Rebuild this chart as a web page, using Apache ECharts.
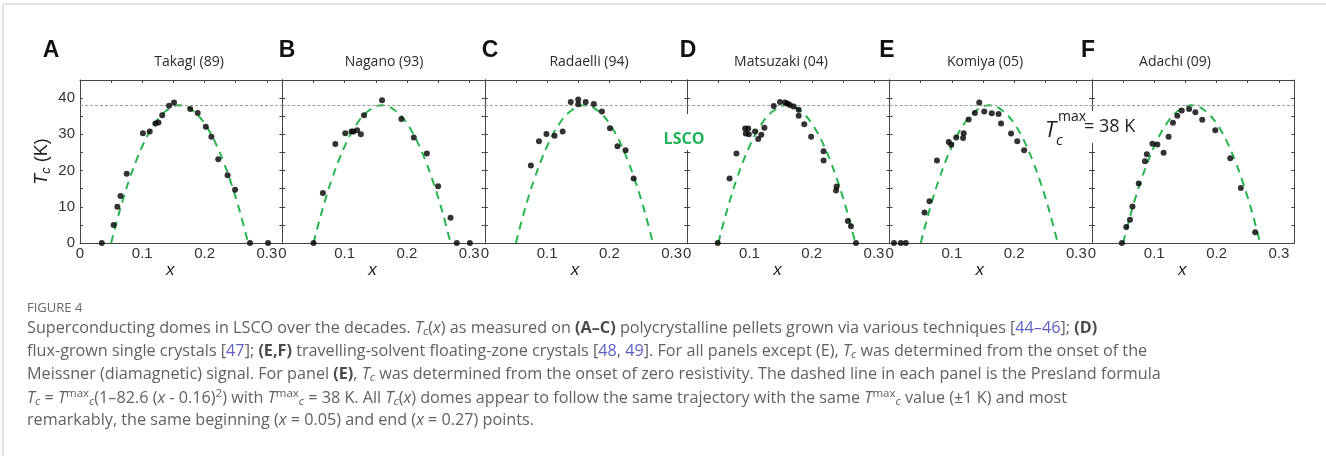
<!DOCTYPE html>
<html><head><meta charset="utf-8">
<script src="https://cdn.jsdelivr.net/npm/echarts@6/dist/echarts.min.js"></script>
<style>html,body{margin:0;padding:0;background:#fff}#c{width:1326px;height:456px}</style>
</head><body><div id="c"></div>
<script>
// ---------- data ----------
const panelLetters = ['A', 'B', 'C', 'D', 'E', 'F'];
const panelTitles = ['Takagi (89)', 'Nagano (93)', 'Radaelli (94)', 'Matsuzaki (04)', 'Komiya (05)', 'Adachi (09)'];
const xTickValues = [0, 0.1, 0.2, 0.3];
const xTickLabels = ['0', '0.1', '0.2', '0.3'];
const yTickValues = [0, 10, 20, 30, 40];
const yTickLabels = ['0', '10', '20', '30', '40'];
const tcMax = 38;

const takagiX = [0.035,0.054,0.060,0.065,0.075,0.101,0.112,0.121,0.126,0.132,0.143,0.151,0.177,0.189,0.202,0.211,0.222,0.237,0.249,0.273,0.302];
const takagiY = [0,5.0,10.0,13.0,19.1,30.3,30.8,33.0,33.3,35.3,37.9,38.8,37.0,35.9,32.1,29.3,23.1,18.7,14.7,0,0];
const naganoX = [0.050,0.065,0.085,0.101,0.111,0.114,0.120,0.126,0.131,0.160,0.191,0.211,0.232,0.250,0.270,0.280,0.301];
const naganoY = [0,13.8,27.3,30.3,30.8,30.8,31.1,30.0,35.3,39.4,34.2,29.1,24.7,15.7,7.0,0,0];
const radaelliX = [0.074,0.087,0.099,0.112,0.125,0.138,0.150,0.150,0.162,0.175,0.188,0.201,0.213,0.226,0.239];
const radaelliY = [21.4,28.1,30.1,29.6,30.8,38.9,39.6,38.3,38.9,38.4,36.3,31.7,26.7,25.6,17.8];
const matsuzakiX = [0.049,0.068,0.079,0.093,0.098,0.094,0.099,0.109,0.114,0.119,0.124,0.139,0.149,0.157,0.161,0.165,0.171,0.179,0.179,0.188,0.199,0.219,0.219,0.240,0.239,0.258,0.263,0.271];
const matsuzakiY = [0,17.8,24.7,31.6,31.6,30.2,30.0,30.8,28.7,29.9,31.8,37.8,38.9,38.8,38.5,38.1,37.7,36.8,35.1,32.8,29.3,25.3,22.8,15.6,14.5,6.1,4.6,0];
const komiyaX = [0.007,0.018,0.026,0.056,0.064,0.076,0.095,0.099,0.107,0.118,0.119,0.127,0.137,0.144,0.152,0.164,0.175,0.179,0.195,0.205,0.216];
const komiyaY = [0,0,0,8.4,11.5,22.8,27.9,27.1,29.1,29.0,30.3,34.1,35.9,38.8,36.3,35.8,35.6,33.0,30.2,28.1,25.6];
const adachiX = [0.048,0.055,0.061,0.065,0.075,0.085,0.088,0.097,0.105,0.115,0.123,0.130,0.137,0.144,0.156,0.166,0.177,0.198,0.222,0.239,0.262];
const adachiY = [0,4.4,6.4,10.1,16.4,22.6,24.5,27.4,27.2,24.9,29.3,33.2,35.1,36.6,37.0,36.1,34.0,31.1,23.4,15.2,3.0];

// Presland dome (dashed)
const preslandX = [0.05,0.06,0.07,0.08,0.09,0.10,0.11,0.12,0.13,0.14,0.15,0.16,0.17,0.18,0.19,0.20,0.21,0.22,0.23,0.24,0.25,0.26,0.27];
const preslandT = [0,6.6,12.6,17.9,22.6,26.7,30.2,33.0,35.2,36.7,37.7,38.0,37.7,36.7,35.2,33.0,30.2,26.7,22.6,17.9,12.6,6.6,0];

const panelX = [takagiX, naganoX, radaelliX, matsuzakiX, komiyaX, adachiX];
const panelY = [takagiY, naganoY, radaelliY, matsuzakiY, komiyaY, adachiY];

// ---------- layout ----------
const G_LEFT = 80, G_W = 202.4, G_TOP = 80, G_H = 163;
const AX = '#444';
const titleCenters = [189, 384, 589, 781, 985, 1175];
const letterCenters = [51, 287, 490, 688, 887, 1088];

const grids = [], xAxes = [], yAxes = [], series = [];
const zip = (a, b) => a.map((v, k) => [v, b[k]]);

for (let i = 0; i < 6; i++) {
  grids.push({ left: G_LEFT + i * G_W, top: G_TOP, width: G_W, height: G_H, containLabel: false });
  xAxes.push({
    gridIndex: i, type: 'value', min: 0, max: 0.325, interval: 0.1, position: 'bottom',
    axisLine: { show: true, onZero: false, lineStyle: { color: AX, width: 1 } },
    axisTick: { show: false }, splitLine: { show: false },
    axisLabel: {
      margin: 3, fontSize: 15, color: '#333', fontFamily: 'Liberation Sans, Arial',
      formatter: v => { const k = xTickValues.findIndex(t => Math.abs(t - v) < 1e-6); return k >= 0 ? xTickLabels[k] : ''; }
    },
    name: 'x', nameLocation: 'middle', nameGap: 17,
    nameTextStyle: { fontStyle: 'italic', fontSize: 17, color: '#222', fontFamily: 'Liberation Sans, Arial', padding: [0, 22, 0, 0] }
  });
  xAxes.push({
    gridIndex: i, type: 'value', min: 0, max: 0.325, interval: 0.05, position: 'top',
    axisLine: { show: true, onZero: false, lineStyle: { color: AX, width: 1 } },
    axisTick: { show: true, inside: true, length: 3, lineStyle: { color: AX } },
    axisLabel: { show: false }, splitLine: { show: false }
  });
  const leftY = {
    gridIndex: i, type: 'value', min: 0, max: 45, interval: 5, position: 'left',
    axisLine: { show: true, onZero: false, lineStyle: { color: AX, width: 1 } },
    axisTick: { show: true, inside: true, length: 3, lineStyle: { color: AX } },
    splitLine: { show: false },
    axisLabel: {
      show: i === 0, margin: 5, fontSize: 15, color: '#333', fontFamily: 'Liberation Sans, Arial',
      formatter: v => { const k = yTickValues.findIndex(t => Math.abs(t - v) < 1e-6); return k >= 0 ? yTickLabels[k] : ''; }
    }
  };
  if (i === 0) {
    leftY.name = '{i|T}{s|c}{n| (K)}';
    leftY.nameLocation = 'middle';
    leftY.nameGap = 27;
    leftY.nameTextStyle = {
      color: '#222',
      rich: {
        i: { fontStyle: 'italic', fontSize: 18, fontFamily: 'Liberation Sans, Arial', color: '#222' },
        s: { fontStyle: 'italic', fontSize: 13, fontFamily: 'Liberation Sans, Arial', color: '#222', padding: [9, 0, 0, 0] },
        n: { fontSize: 18, fontFamily: 'Liberation Sans, Arial', color: '#222' }
      }
    };
  }
  yAxes.push(leftY);
  yAxes.push({
    gridIndex: i, type: 'value', min: 0, max: 45, interval: 5, position: 'right',
    axisLine: { show: true, onZero: false, lineStyle: { color: AX, width: 1 } },
    axisTick: { show: true, inside: true, length: 3, lineStyle: { color: AX } },
    axisLabel: { show: false }, splitLine: { show: false }
  });
  series.push({
    type: 'line', xAxisIndex: 2 * i, yAxisIndex: 2 * i,
    data: zip(preslandX, preslandT), smooth: true, showSymbol: false, symbol: 'none',
    lineStyle: { color: '#27b54e', width: 2, type: [8, 6] }, z: 2, silent: true,
    markLine: {
      silent: true, symbol: 'none', label: { show: false },
      lineStyle: { color: '#9a9a9a', type: [3, 2], width: 1 },
      data: [{ yAxis: tcMax }]
    }
  });
  series.push({
    type: 'scatter', xAxisIndex: 2 * i, yAxisIndex: 2 * i,
    data: zip(panelX[i], panelY[i]), symbol: 'circle', symbolSize: 6,
    itemStyle: { color: '#000' }, z: 5, clip: false, silent: true
  });
}

// ---------- text graphics ----------
const graphic = [];
graphic.push({ type: 'line', shape: { x1: 3, y1: 4, x2: 1326, y2: 4 }, style: { stroke: '#d9d9d9', lineWidth: 1.5 }, z: 1 });
graphic.push({ type: 'line', shape: { x1: 3, y1: 4, x2: 3, y2: 456 }, style: { stroke: '#d9d9d9', lineWidth: 1.5 }, z: 1 });
for (let i = 0; i < 6; i++) {
  graphic.push({ type: 'text', x: letterCenters[i], y: 51, z: 10,
    style: { text: panelLetters[i], fontFamily: 'Liberation Sans, Arial', fontWeight: 'bold', fontSize: 23, fill: '#111', align: 'center', verticalAlign: 'middle' } });
  graphic.push({ type: 'text', x: titleCenters[i], y: 62, z: 10,
    style: { text: panelTitles[i], fontFamily: 'Open Sans', fontSize: 14, fill: '#2a2a2a', align: 'center', verticalAlign: 'middle' } });
}
// LSCO label with white box
graphic.push({ type: 'rect', shape: { x: 661, y: 114, width: 46, height: 36 }, style: { fill: '#fff' }, z: 10 });
graphic.push({ type: 'text', x: 684, y: 139, z: 11,
  style: { text: 'LSCO', fontFamily: 'Open Sans', fontWeight: 'bold', fontSize: 16, fill: '#1fb35a', align: 'center', verticalAlign: 'middle' } });
// Tc max annotation
graphic.push({ type: 'rect', shape: { x: 1082, y: 111, width: 54, height: 32 }, style: { fill: '#fff' }, z: 10 });
graphic.push({ type: 'text', x: 1045, y: 131, z: 11, style: { text: 'T', fontFamily: 'Open Sans', fontStyle: 'italic', fontSize: 22, fill: '#222', verticalAlign: 'middle' } });
graphic.push({ type: 'text', x: 1056, y: 141, z: 11, style: { text: 'c', fontFamily: 'Open Sans', fontStyle: 'italic', fontSize: 15, fill: '#222', verticalAlign: 'middle' } });
graphic.push({ type: 'text', x: 1058, y: 117, z: 11, style: { text: 'max', fontFamily: 'Open Sans', fontSize: 14, fill: '#222', verticalAlign: 'middle' } });
graphic.push({ type: 'text', x: 1084, y: 127, z: 11, style: { text: '= 38 K', fontFamily: 'Open Sans', fontSize: 18, fill: '#222', verticalAlign: 'middle' } });

// caption
const CAP_FONT = 'Open Sans', CAP_SIZE = 16.2, CAP_COL = '#616161';
const capRich = {
  i: { fontFamily: CAP_FONT, fontSize: CAP_SIZE, fontStyle: 'italic', fill: CAP_COL },
  b: { fontFamily: CAP_FONT, fontSize: CAP_SIZE, fontWeight: 'bold', fill: '#4a4a4a' },
  l: { fontFamily: CAP_FONT, fontSize: CAP_SIZE, fill: '#5d5fc2' },
  sb: { fontFamily: CAP_FONT, fontSize: 11.5, fontStyle: 'italic', fill: CAP_COL, padding: [8, 0, 0, 0] },
  sp: { fontFamily: CAP_FONT, fontSize: 11.5, fill: CAP_COL, padding: [0, 0, 8, 0] }
};
const captionLines = [
  'Superconducting domes in LSCO over the decades. {i|T}{sb|c}({i|x}) as measured on {b|(A–C)} polycrystalline pellets grown via various techniques [{l|44–46}]; {b|(D)}',
  'flux-grown single crystals [{l|47}]; {b|(E,F)} travelling-solvent floating-zone crystals [{l|48}, {l|49}]. For all panels except (E), {i|T}{sb|c} was determined from the onset of the',
  'Meissner (diamagnetic) signal. For panel {b|(E)}, {i|T}{sb|c} was determined from the onset of zero resistivity. The dashed line in each panel is the Presland formula',
  '{i|T}{sb|c} = {i|T}{sp|max}{sb|c}(1–82.6 ({i|x} - 0.16){sp|2}) with {i|T}{sp|max}{sb|c} = 38 K. All {i|T}{sb|c}({i|x}) domes appear to follow the same trajectory with the same {i|T}{sp|max}{sb|c} value (±1 K) and most',
  'remarkably, the same beginning ({i|x} = 0.05) and end ({i|x} = 0.27) points.'
];
const captionY = [328, 351, 374, 398, 420];
graphic.push({ type: 'text', x: 27, y: 308, z: 10,
  style: { text: 'FIGURE 4', fontFamily: CAP_FONT, fontSize: 13, fill: '#666', verticalAlign: 'middle' } });
captionLines.forEach((t, k) => {
  graphic.push({ type: 'text', x: 27, y: captionY[k], z: 10,
    style: { text: t, fontFamily: CAP_FONT, fontSize: CAP_SIZE, fill: CAP_COL, verticalAlign: 'middle', rich: capRich } });
});

const chart = echarts.init(document.getElementById('c'), null, { renderer: 'canvas' });
chart.setOption({
  backgroundColor: '#fff',
  animation: false,
  grid: grids, xAxis: xAxes, yAxis: yAxes, series: series,
  graphic: graphic
});
</script></body></html>
